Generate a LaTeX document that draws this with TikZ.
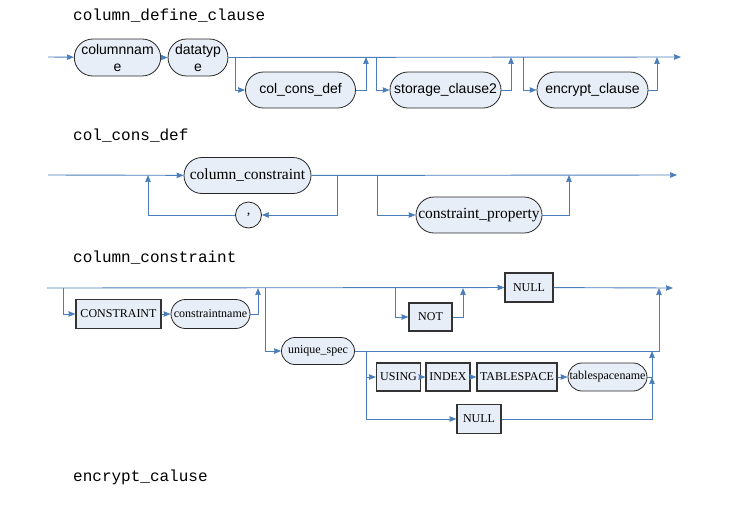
\documentclass[tikz,border=0pt]{standalone}
\usepackage{fontspec}
\setmainfont{Liberation Serif}
\newfontfamily\arialfont{Liberation Sans}
\newfontfamily\courfont{Liberation Mono}
\usetikzlibrary{arrows.meta,shapes.misc}

\definecolor{railblue}{HTML}{4A7EBB}
\definecolor{boxfill}{HTML}{E8EEF8}

\tikzset{
 rail/.style={draw=railblue,line width=0.9pt},
 title/.style={anchor=base west,inner sep=0pt,font=\courfont\fontsize{16}{18}\selectfont},
 pill/.style={rounded rectangle,draw=black!85,fill=boxfill,line width=0.8pt,inner sep=1pt},
 pillA/.style={pill,align=center,font=\arialfont\fontsize{14}{17}\selectfont},
 pillB/.style={pill,font=\fontsize{15.5}{17}\selectfont},
 pillC/.style={pill,font=\fontsize{12}{14}\selectfont},
 keybox/.style={rectangle,draw=black!80,fill=boxfill,line width=1.1pt,inner sep=1pt,font=\fontsize{12}{14}\selectfont}
}

\begin{document}
\begin{tikzpicture}[x=1pt,y=-1pt,>={Stealth[length=7pt,width=5.5pt,inset=0.5pt]}]
 \useasboundingbox (0,0) rectangle (747,507);

 % column_define_clause
 \node[title] (t1) at (73,20) {column\_define\_clause};
 \coordinate (s1) at (48,57);
 \coordinate (e1) at (681,57);
 \node[pillA,minimum width=79,minimum height=37] (colname) at (117.5,57.5) {columnnam\\e};
 \node[pillA,minimum width=55,minimum height=37] (dtype) at (198,57.5) {datatyp\\e};
 \node[pillA,minimum width=112,minimum height=36] (ccdef) at (300.5,90) {col\_cons\_def};
 \node[pillA,minimum width=113,minimum height=36] (stor) at (445.5,90) {storage\_clause2};
 \node[pillA,minimum width=113,minimum height=36] (encr) at (592.5,90) {encrypt\_clause};
 \coordinate (b1a) at (235,57);
 \coordinate (j1a) at (366,57);
 \coordinate (b1b) at (376,57);
 \coordinate (j1b) at (511,57);
 \coordinate (b1c) at (523,57);
 \coordinate (j1c) at (657,57);
 \draw[rail,->] (s1) -- (colname);
 \draw[rail,->] (colname) -- (dtype);
 \draw[rail,->] (dtype) -- (e1);
 \draw[rail,->] (b1a) |- (ccdef);
 \draw[rail,->] (ccdef) -| (j1a);
 \draw[rail,->] (b1b) |- (stor);
 \draw[rail,->] (stor) -| (j1b);
 \draw[rail,->] (b1c) |- (encr);
 \draw[rail,->] (encr) -| (j1c);

 % col_cons_def
 \node[title] (t2) at (73,140) {col\_cons\_def};
 \coordinate (s2) at (48,175);
 \coordinate (e2) at (677,175);
 \node[pillB,minimum width=129,minimum height=36] (colcons) at (247.5,175.5) {column\_constraint};
 \node[circle,draw=black!85,fill=boxfill,line width=0.8pt,inner sep=0pt,minimum size=26,font=\fontsize{14}{14}\selectfont] (comma) at (248.5,215) {,};
 \node[pillB,minimum width=128,minimum height=36] (cprop) at (479,215) {constraint\_property};
 \coordinate (l1) at (337,175);
 \coordinate (l2) at (148,175);
 \coordinate (b2) at (377,175);
 \coordinate (j2) at (569,175);
 \draw[rail,->] (s2) -- (colcons);
 \draw[rail,->] (colcons) -- (e2);
 \draw[rail,->] (l1) |- (comma);
 \draw[rail,->] (comma) -| (l2);
 \draw[rail,->] (b2) |- (cprop);
 \draw[rail,->] (cprop) -| (j2);

 % column_constraint
 \node[title] (t3) at (73,262) {column\_constraint};
 \coordinate (s3) at (47,288);
 \coordinate (e3) at (673,288);
 \node[keybox,minimum width=85,minimum height=29] (constr) at (118.5,314) {CONSTRAINT};
 \node[pillC,minimum width=81,minimum height=29] (cname) at (210.5,314) {constraintname};
 \node[pillC,minimum width=75,minimum height=27] (uspec) at (318,351) {unique\_spec};
 \node[keybox,minimum width=43,minimum height=28] (notb) at (430.5,317) {NOT};
 \node[keybox,minimum width=48,minimum height=29] (nulla) at (529,287.5) {NULL};
 \node[keybox,minimum width=44,minimum height=28] (using) at (398.5,377) {USING};
 \node[keybox,minimum width=44,minimum height=28] (index) at (448,377) {INDEX};
 \node[keybox,minimum width=80,minimum height=28] (tspace) at (517,377) {TABLESPACE};
 \node[pillC,minimum width=81,minimum height=28] (tsname) at (607.5,377) {tablespacename};
 \node[keybox,minimum width=44,minimum height=29] (nullb) at (479,419) {NULL};
 \coordinate (b3a) at (63,288);
 \coordinate (j3a) at (258,288);
 \coordinate (b3b) at (265,288);
 \coordinate (j3b) at (659,288);
 \coordinate (b3c) at (395,288);
 \coordinate (j3c) at (463,288);
 \coordinate (b3d) at (366,351);
 \coordinate (j3d) at (652,351);
 \coordinate (j3e) at (652,377);
 \draw[rail,->] (s3) -- (nulla);
 \draw[rail,->] (nulla) -- (e3);
 \draw[rail,->] (b3a) |- (constr);
 \draw[rail,->] (constr) -- (cname);
 \draw[rail,->] (cname) -| (j3a);
 \draw[rail,->] (b3b) |- (uspec);
 \draw[rail,->] (uspec) -| (j3b);
 \draw[rail,->] (b3c) |- (notb);
 \draw[rail,->] (notb) -| (j3c);
 \draw[rail,->] (b3d) |- (using);
 \draw[rail,->] (using) -- (index);
 \draw[rail,->] (index) -- (tspace);
 \draw[rail,->] (tspace) -- (tsname);
 \draw[rail,->] (tsname) -| (j3d);
 \draw[rail,->] (b3d) |- (nullb);
 \draw[rail,->] (nullb) -| (j3e);

 % encrypt_caluse
 \node[title] (t4) at (73,481) {encrypt\_caluse};
\end{tikzpicture}
\end{document}
